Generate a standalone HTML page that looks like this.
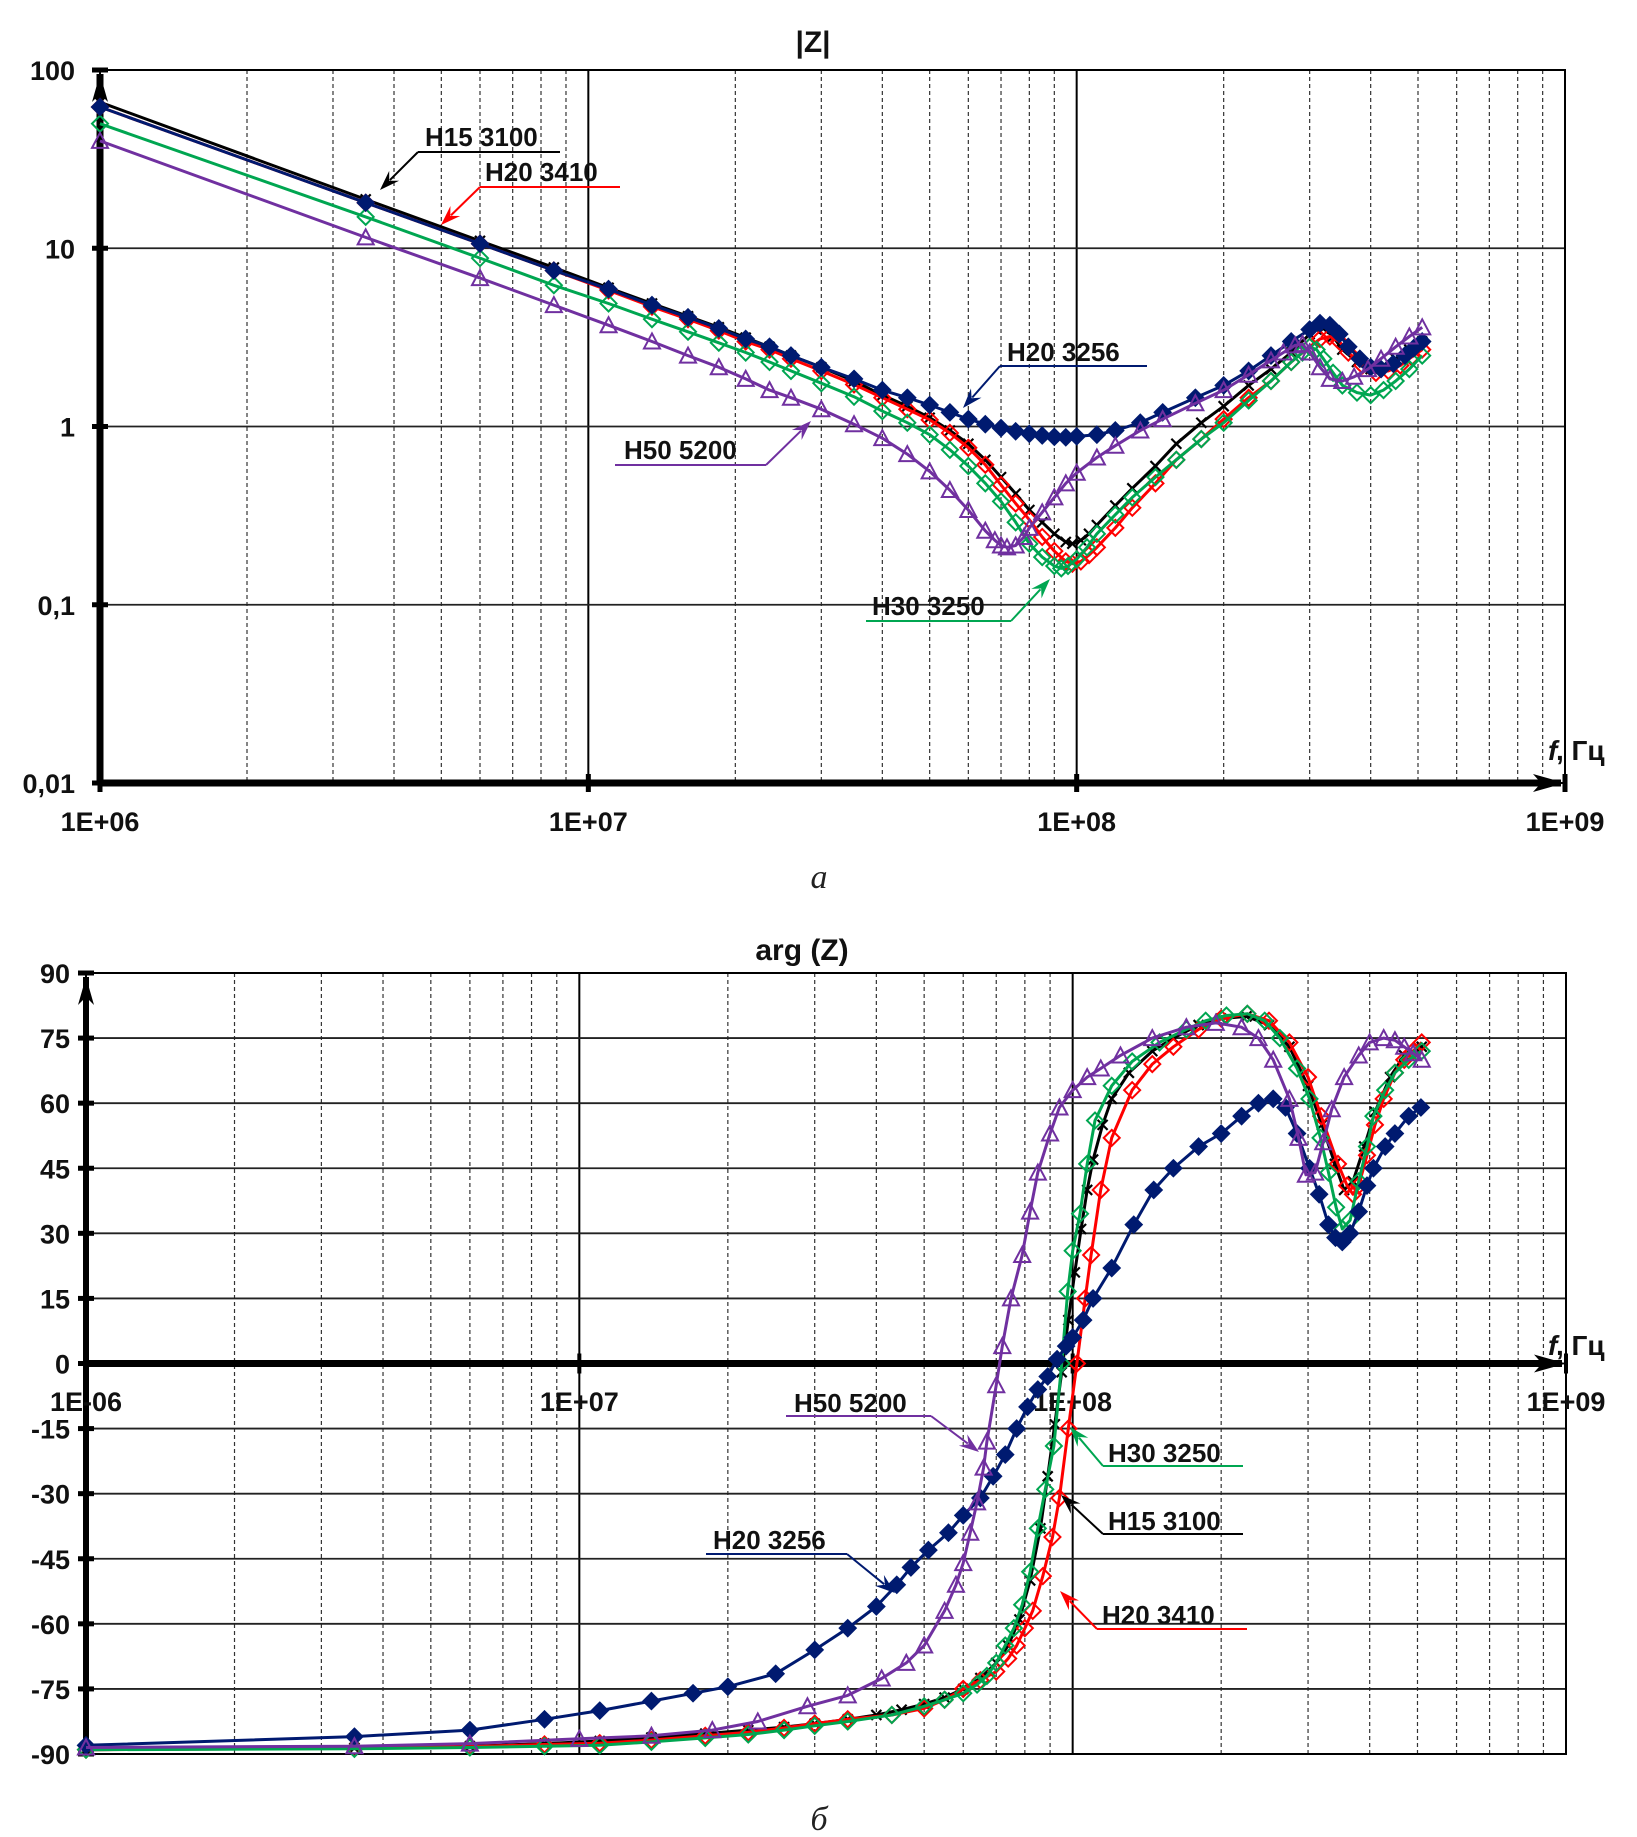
<!DOCTYPE html>
<html><head><meta charset="utf-8"><style>
html,body{margin:0;padding:0;background:#fff;}
svg{display:block;font-family:"Liberation Sans",Arial,sans-serif;}
.tk{font-weight:bold;font-size:27px;fill:#111;}
.an{font-weight:bold;font-size:26px;fill:#111;}
</style></head><body>
<svg id="c" width="1637" height="1837" viewBox="0 0 1637 1837" xmlns="http://www.w3.org/2000/svg">
<g id="topChart"></g><g id="botChart"></g>
</svg>
<script>
// ---------- DATA (frequencies in MHz) ----------
const magTicks = [100, 10, 1, 0.1, 0.01];
const magTickLabels = ["100", "10", "1", "0,1", "0,01"];
const xTickLabelsTop = ["1E+06", "1E+07", "1E+08", "1E+09"];
const xTickLabelsBot = ["1E-06", "1E+07", "1E+08", "1E+09"];
const decades = [1, 10, 100, 1000];

const fH15m = [1,3.5,6,8.5,11,13.5,16,18.5,21,23.5,26,30,35,40,45,50,55,60,65,70,75,80,85,90,95,98,102,106,110,120,130,145,160,180,200,225,250,275,300,310,320,335,350,375,400,425,450,480,510];
const zH15m = [66,18.8,11,7.8,6,4.9,4.15,3.6,3.15,2.8,2.5,2.15,1.8,1.5,1.3,1.12,0.95,0.8,0.65,0.52,0.42,0.34,0.29,0.25,0.225,0.22,0.23,0.25,0.28,0.36,0.45,0.6,0.8,1.05,1.3,1.7,2.1,2.6,3.3,3.5,3.55,3.2,2.7,2.3,2.1,2.2,2.4,2.7,3.0];

const fH20m = [1,3.5,6,8.5,11,13.5,16,18.5,21,23.5,26,30,35,40,45,50,55,60,65,70,75,80,85,90,95,98,102,106,110,120,130,145,160,180,200,225,250,275,300,315,330,345,360,385,410,435,460,485,510];
const zH20m = [62,18,10.6,7.5,5.8,4.7,4.0,3.45,3.0,2.7,2.4,2.05,1.72,1.45,1.25,1.09,0.92,0.76,0.61,0.47,0.37,0.3,0.24,0.2,0.175,0.17,0.175,0.19,0.21,0.27,0.35,0.48,0.65,0.85,1.1,1.45,1.8,2.3,2.8,3.1,3.2,3.0,2.6,2.2,2.0,2.05,2.2,2.45,2.7];

const fH30m = [1,3.5,6,8.5,11,13.5,16,18.5,21,23.5,26,30,35,40,45,50,55,60,65,70,75,80,85,90,93,96,100,105,110,120,130,145,160,180,200,225,250,275,290,300,310,320,335,350,375,400,425,450,480,510];
const zH30m = [50,15,8.8,6.2,4.9,4.0,3.4,2.95,2.6,2.3,2.05,1.75,1.47,1.22,1.05,0.9,0.74,0.6,0.48,0.38,0.29,0.22,0.185,0.165,0.16,0.165,0.18,0.21,0.25,0.32,0.4,0.52,0.65,0.85,1.05,1.4,1.8,2.3,2.6,2.8,2.7,2.4,2.0,1.7,1.55,1.5,1.6,1.8,2.1,2.5];

const fH50m = [1,3.5,6,8.5,11,13.5,16,18.5,21,23.5,26,30,35,40,45,50,55,60,65,68,70,72,75,78,80,85,90,95,100,110,120,135,150,175,200,225,250,265,280,290,300,315,330,350,370,395,420,450,480,510];
const zH50m = [40,11.5,6.8,4.8,3.7,3.0,2.5,2.15,1.85,1.6,1.45,1.25,1.03,0.86,0.7,0.56,0.44,0.34,0.26,0.23,0.215,0.21,0.215,0.24,0.27,0.33,0.4,0.48,0.55,0.67,0.78,0.95,1.1,1.35,1.6,1.95,2.35,2.6,2.85,2.9,2.6,2.15,1.85,1.8,1.9,2.1,2.4,2.8,3.2,3.6];

const fH20bm = [1,3.5,6,8.5,11,13.5,16,18.5,21,23.5,26,30,35,40,45,50,55,60,65,70,75,80,85,90,95,100,110,120,135,150,175,200,225,250,275,300,315,330,345,360,380,400,420,445,470,490,510];
const zH20bm = [62,18,10.6,7.5,5.9,4.8,4.1,3.55,3.1,2.8,2.5,2.15,1.85,1.6,1.45,1.32,1.2,1.1,1.03,0.98,0.94,0.91,0.89,0.875,0.87,0.88,0.9,0.95,1.05,1.2,1.45,1.7,2.05,2.5,3.0,3.5,3.8,3.7,3.3,2.8,2.4,2.15,2.1,2.25,2.5,2.75,3.0];

const argTicks = [90,75,60,45,30,15,0,-15,-30,-45,-60,-75,-90];

const fH15a = [1,3.5,6,8.5,11,14,18,22,26,30,35,40,45,50,55,60,65,70,74,78,82,86,89,92,95,98,101,104,107,110,115,120,130,145,160,180,200,225,250,275,300,320,340,355,370,390,410,440,470,510];
const aH15a = [-89,-88.6,-88.2,-87.6,-87,-86.2,-85.3,-84.5,-83.8,-83,-82,-81,-79.8,-78.5,-77,-75,-72.5,-69,-65,-59,-50,-38,-26,-14,-2,10,21,31,40,47,55,61,67,72,75,78,79.5,80,78,73,64,55,46,40,42,50,58,66,71,73];

const fH20a = [1,3.5,6,8.5,11,14,18,22,26,30,35,43,50,55,60,65,70,74,77,80,83,87,91,94,98,102,106,109,114,120,132,145,160,180,200,226,250,275,300,319,345,360,370,380,395,410,427,450,470,490,510];
const aH20a = [-89,-88.7,-88.3,-87.8,-87.5,-86.8,-85.8,-85,-84,-83,-82,-81,-79.5,-77.5,-75,-73,-71,-68,-65,-61,-57,-49,-40,-31,-15,0,15,25,40,52,63,69,73,77,79.5,80.6,79,74,66,57,46,41,39,41,48,55,61,67,70,72,74];

const fH30a = [1,3.5,6,8.5,11,14,18,22,26,30,35,43,50,55,60,64,67,70,73,76,79,82,85,88,91.6,95,97.7,100,103.5,107,111,120,132,150,170,186,205,226,245,263,285,302,318,330,342,352,365,380,395,407,430,450,480,510];
const aH30a = [-89,-88.8,-88.5,-88.2,-88,-87.2,-86.3,-85.5,-84.5,-83.5,-82.5,-81,-79,-77.5,-76,-74,-72,-69,-65,-61,-55.6,-48,-38,-29,-19,0,16.6,26,34.5,46,56,64,69.6,74,77,79,80.2,80.6,79,75,68,61,52,44,36,31,33,42,50,57,63,67,70,72];

const fH50a = [1,3.5,6,10,14,18.6,23,29,35,41,46,50,55,58,60,62,64,66,67,70,72,75,79,82,85,90,94,100,107,114,125,145,170,195,220,238,255,275,287,297,310,322,335,355,380,400,427,450,470,490,510];
const aH50a = [-88.5,-88.2,-87.6,-86.5,-85.8,-84.5,-82.5,-79,-76.5,-72.6,-69,-65,-57,-51,-46,-39,-32,-24,-18,-5,4,15,25,35,44,53,59,63,66,68,71,75,77.5,78.5,77.5,75,70,61,52,43.5,44,51,58.6,66,71,74,75,74.5,73,71.5,70];

const fH20ba = [1,3.5,6,8.5,11,14,17,20,25,30,35,40,44,47,51,56,60,65,69,73,77,81,85,89,93,97,100,105,110,120,133,146,160,180,200,220,238,255,270,285,302,316,330,341,352,365,380,395,407,430,450,480,508];
const aH20ba = [-88,-86,-84.5,-82,-80,-77.8,-76,-74.5,-71.5,-66,-61,-56,-51,-47,-43,-39,-35,-31,-26,-21,-15,-10,-6,-3,1,4,6,10,15,22,32,40,45,50,53,57,60,61,59,53,45,39,32,29,28,30,35,41,45,50,53,57,59];

// ---------- AXES ----------
const T = {x0:100, x1:1565, y0:70, y1:783};
const B = {x0:86, x1:1566, y0:973, y1:1754, yz:1363.5};
function xT(f){ return T.x0 + Math.log10(f)*(T.x1-T.x0)/3; }
function yT(v){ return T.y0 + (2-Math.log10(v))*(T.y1-T.y0)/4; }
function xB(f){ return B.x0 + Math.log10(f)*(B.x1-B.x0)/3; }
function yB(v){ return B.yz - v*(B.y1-B.y0)/180; }

const NS="http://www.w3.org/2000/svg";
function mk(parent, tag, attrs){
  const e=document.createElementNS(NS,tag);
  for(const k in attrs) e.setAttribute(k, attrs[k]);
  parent.appendChild(e); return e;
}
const gTop=document.getElementById('topChart'), gBot=document.getElementById('botChart');

function grid(g, X, Y, x0,x1,y0,y1, hvals, tickLabels, labelX){
  for(let d=0; d<3; d++){
    for(let m=2; m<=9; m++){
      const x=X(decades[d]*m);
      const l=mk(g,'line',{x1:x,y1:y0,x2:x,y2:y1,stroke:'#333','stroke-width':1.2,'stroke-dasharray':'4,3'});
      
      
    }
  }
  for(let d=1; d<4; d++){
    const x=X(decades[d]);
    const l=mk(g,'line',{x1:x,y1:y0,x2:x,y2:y1,stroke:'#000','stroke-width':2});
    
    
  }
  hvals.forEach((v,i)=>{
    const y=Y(v);
    const l=mk(g,'line',{x1:x0,y1:y,x2:x1,y2:y,stroke:'#222','stroke-width':1.8});
    
    
    const tk=mk(g,'line',{x1:x0-8,y1:y,x2:x0+8,y2:y,stroke:'#000','stroke-width':5});
    
    
    const t=mk(g,'text',{x:labelX,y:y+10,'text-anchor':'end',class:'tk'});
    t.textContent=tickLabels[i];
    
    
  });
}

function series(g, X, Y, fs, vs, color, mtype, name){
  const pts=fs.map((f,i)=>X(f).toFixed(1)+','+Y(vs[i]).toFixed(1)).join(' ');
  const pl=mk(g,'polyline',{points:pts,fill:'none',stroke:color,'stroke-width':3,'stroke-linejoin':'round'});
  
  
  fs.forEach((f,i)=>{
    const x=X(f), y=Y(vs[i]); let m;
    if(mtype==='diamondFill'||mtype==='diamond'){
      m=mk(g,'polygon',{points:`${x},${y-8} ${x+8},${y} ${x},${y+8} ${x-8},${y}`,fill:mtype==='diamondFill'?color:'none',stroke:color,'stroke-width':2});
    } else if(mtype==='tri'){
      m=mk(g,'polygon',{points:`${x},${y-8} ${x+8},${y+7} ${x-8},${y+7}`,fill:'none',stroke:color,'stroke-width':2});
    } else {
      m=mk(g,'path',{d:`M${x-5},${y-5}L${x+5},${y+5}M${x+5},${y-5}L${x-5},${y+5}`,stroke:color,'stroke-width':2.2});
    }
    
    
  });
}

function label(g, text, tx, ty, ux0, ux1, uy, ax, ay, color, name){
  const t=mk(g,'text',{x:tx,y:ty,class:'an'}); t.textContent=text;
  
  
  const u=mk(g,'line',{x1:ux0,y1:uy,x2:ux1,y2:uy,stroke:color,'stroke-width':2});
  
  
  const sx=(ax<ux0+(ux1-ux0)/2)?ux0:ux1;
  const dx=ax-sx, dy=ay-uy, L=Math.hypot(dx,dy), ex=dx/L, ey=dy/L;
  const l=mk(g,'line',{x1:sx,y1:uy,x2:ax-ex*14,y2:ay-ey*14,stroke:color,'stroke-width':2});
  
  
  const bx=ax-ex*20, by=ay-ey*20, px=-ey, py=ex;
  const h=mk(g,'polygon',{points:`${ax},${ay} ${bx+px*7},${by+py*7} ${ax-ex*13},${ay-ey*13} ${bx-px*7},${by-py*7}`,fill:color});
  
  
}

function txt(g,s,x,y,attrs,name){
  const t=mk(g,'text',Object.assign({x:x,y:y},attrs)); t.textContent=s;
  
  
  return t;
}

// ---------- TOP CHART ----------
grid(gTop, xT, yT, T.x0, T.x1, T.y0, T.y1, magTicks, magTickLabels, 75);
let fr=mk(gTop,'rect',{x:T.x0,y:T.y0,width:T.x1-T.x0,height:T.y1-T.y0,fill:'none',stroke:'#000','stroke-width':2});
 
let ax1=mk(gTop,'line',{x1:T.x0,y1:T.y1,x2:T.x0,y2:T.y0+4,stroke:'#000','stroke-width':7});
 
let ah1=mk(gTop,'polygon',{points:`${T.x0},${T.y0+4} ${T.x0+8},${T.y0+32} ${T.x0},${T.y0+24} ${T.x0-8},${T.y0+32}`,fill:'#000'});
 
let ax2=mk(gTop,'line',{x1:T.x0,y1:T.y1,x2:T.x1-4,y2:T.y1,stroke:'#000','stroke-width':7});
 
let ah2=mk(gTop,'polygon',{points:`${T.x1},${T.y1} ${T.x1-32},${T.y1-9} ${T.x1-24},${T.y1} ${T.x1-32},${T.y1+9}`,fill:'#000'});
 
decades.forEach((d,i)=>{
  const x=xT(d);
  txt(gTop,xTickLabelsTop[i],x,831,{'text-anchor':'middle',class:'tk'},'top-x-tick-label');
  const tk=mk(gTop,'line',{x1:x,y1:T.y1-9,x2:x,y2:T.y1+9,stroke:'#000','stroke-width':5});
   
});
txt(gTop,'|Z|',813,52,{'text-anchor':'middle','font-size':30,'font-weight':'bold',fill:'#111'},'top-chart-title');
txt(gTop,'f',1548,760,{'font-size':28,'font-weight':'bold','font-style':'italic',fill:'#111'},'top-x-axis-title');
txt(gTop,', Гц',1556,760,{'font-size':28,'font-weight':'bold',fill:'#111'},'top-x-axis-unit');
txt(gTop,'а',819,888,{'text-anchor':'middle','font-size':34,'font-style':'italic','font-family':'"Liberation Serif",serif',fill:'#222'},'caption-a');

series(gTop,xT,yT,fH15m,zH15m,'#000','x','h15-3100-mag');
series(gTop,xT,yT,fH20m,zH20m,'#ff0000','diamond','h20-3410-mag');
series(gTop,xT,yT,fH30m,zH30m,'#00a651','diamond','h30-3250-mag');
series(gTop,xT,yT,fH20bm,zH20bm,'#001a70','diamondFill','h20-3256-mag');
series(gTop,xT,yT,fH50m,zH50m,'#7030a0','tri','h50-5200-mag');

label(gTop,'H15 3100',425,146,418,560,152,380,190,'#000','h15-3100-top');
label(gTop,'H20 3410',485,181,480,620,187,441,225,'#ff0000','h20-3410-top');
label(gTop,'H20 3256',1007,361,1000,1147,366,963,408,'#001a70','h20-3256-top');
label(gTop,'H50 5200',624,459,615,766,465,811,421,'#7030a0','h50-5200-top');
label(gTop,'H30 3250',872,615,866,1011,621,1050,579,'#00a651','h30-3250-top');

// ---------- BOTTOM CHART ----------
grid(gBot, xB, yB, B.x0, B.x1, B.y0, B.y1, argTicks, argTicks.map(String), 70);
fr=mk(gBot,'rect',{x:B.x0,y:B.y0,width:B.x1-B.x0,height:B.y1-B.y0,fill:'none',stroke:'#000','stroke-width':2});
 
ax1=mk(gBot,'line',{x1:B.x0,y1:B.y1,x2:B.x0,y2:B.y0+4,stroke:'#000','stroke-width':6});
 
ah1=mk(gBot,'polygon',{points:`${B.x0},${B.y0+4} ${B.x0+8},${B.y0+32} ${B.x0},${B.y0+24} ${B.x0-8},${B.y0+32}`,fill:'#000'});
 
ax2=mk(gBot,'line',{x1:B.x0,y1:B.yz,x2:B.x1-4,y2:B.yz,stroke:'#000','stroke-width':7});
 
ah2=mk(gBot,'polygon',{points:`${B.x1},${B.yz} ${B.x1-32},${B.yz-9} ${B.x1-24},${B.yz} ${B.x1-32},${B.yz+9}`,fill:'#000'});
 
decades.forEach((d,i)=>{
  const x=xB(d);
  txt(gBot,xTickLabelsBot[i],x,1411,{'text-anchor':'middle',class:'tk'},'bottom-x-tick-label');
  const tk=mk(gBot,'line',{x1:x,y1:B.yz-10,x2:x,y2:B.yz+10,stroke:'#000','stroke-width':4});
   
});
txt(gBot,'arg (Z)',802,960,{'text-anchor':'middle','font-size':30,'font-weight':'bold',fill:'#111'},'bottom-chart-title');
txt(gBot,'f',1548,1355,{'font-size':28,'font-weight':'bold','font-style':'italic',fill:'#111'},'bottom-x-axis-title');
txt(gBot,', Гц',1556,1355,{'font-size':28,'font-weight':'bold',fill:'#111'},'bottom-x-axis-unit');
txt(gBot,'б',819,1830,{'text-anchor':'middle','font-size':34,'font-style':'italic','font-family':'"Liberation Serif",serif',fill:'#222'},'caption-b');

series(gBot,xB,yB,fH15a,aH15a,'#000','x','h15-3100-arg');
series(gBot,xB,yB,fH20a,aH20a,'#ff0000','diamond','h20-3410-arg');
series(gBot,xB,yB,fH30a,aH30a,'#00a651','diamond','h30-3250-arg');
series(gBot,xB,yB,fH20ba,aH20ba,'#001a70','diamondFill','h20-3256-arg');
series(gBot,xB,yB,fH50a,aH50a,'#7030a0','tri','h50-5200-arg');

label(gBot,'H50 5200',794,1412,786,931,1416,979,1452,'#7030a0','h50-5200-bottom');
label(gBot,'H20 3256',713,1549,706,847,1554,895,1593,'#001a70','h20-3256-bottom');
label(gBot,'H30 3250',1108,1462,1103,1243,1466,1070,1427,'#00a651','h30-3250-bottom');
label(gBot,'H15 3100',1108,1530,1103,1243,1534,1061,1495,'#000','h15-3100-bottom');
label(gBot,'H20 3410',1102,1624,1097,1247,1629,1060,1591,'#ff0000','h20-3410-bottom');
</script>
</body></html>
